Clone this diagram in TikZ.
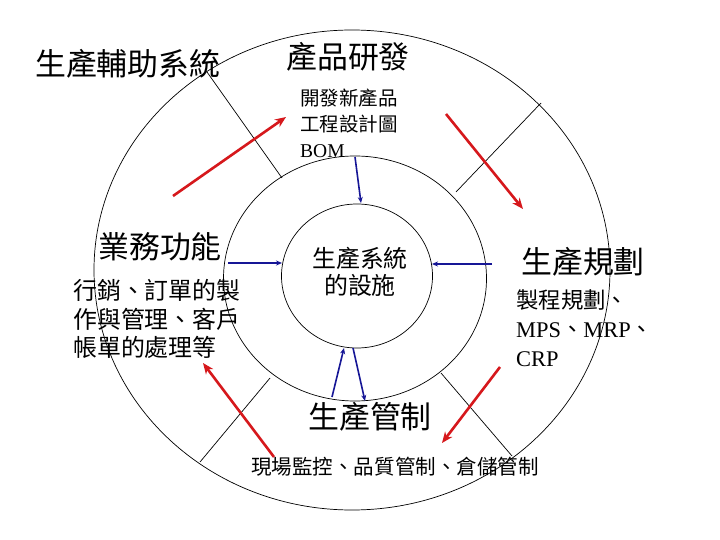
\documentclass[tikz,border=0pt]{standalone}
\usepackage{fontspec}
\setmainfont{Liberation Serif}
\newfontfamily\cjk{Noto Sans CJK TC}
\usetikzlibrary{arrows.meta}
\definecolor{flow}{RGB}{214,24,28}
\definecolor{feed}{RGB}{22,22,150}

\begin{document}
\begin{tikzpicture}[x=1bp, y=-1bp, inner sep=0pt,
  ring/.style={line width=0.7bp, black},
  flowarrow/.style={-{Stealth[length=11bp,width=9bp]}, line width=2.6bp, flow},
  feedarrow/.style={-{Stealth[length=6bp,width=5bp]}, line width=1.6bp, feed},
  title/.style={font=\cjk\fontsize{31}{31}\selectfont},
  sub/.style={font=\cjk\fontsize{24}{29}\selectfont, align=left}]

\useasboundingbox[fill=white] (0,0) rectangle (720,540);

% the three rings
\draw[ring] (352,270) ellipse [x radius=258, y radius=240];
\draw[ring] (355,278.5) ellipse [x radius=131.5, y radius=122.5];
\draw[ring] (357,276) ellipse [x radius=75.5, y radius=72];

% dividers of the outer ring
\foreach \xa/\ya/\xb/\yb in {207/72/282/178, 541/103/456/192, 270/378/200/462, 441/373/512/456}
  \draw[ring] (\xa,\ya) -- (\xb,\yb);

% titles
\node[title, anchor=west] (aux) at (35,64) {生產輔助系統};
\node[title] (rnd) at (348,57) {產品研發};
\node[title] (biz) at (160,247) {業務功能};
\node[title] (plan) at (583,262) {生產規劃};
\node[title] (ctrl) at (370,417) {生產管制};

% descriptions
\node[anchor=west, align=left, font=\fontsize{19.6}{26}\selectfont] (rndText) at (300,123)
  {{\cjk 開發新產品}\\{\cjk 工程設計圖}\\BOM};
\node[sub, anchor=west] (bizText) at (73,319) {行銷、訂單的製\\作與管理、客戶\\帳單的處理等};
\node[anchor=west, align=left, font=\fontsize{22.5}{29}\selectfont] (planText) at (516,328)
  {{\cjk 製程規劃、}\\MPS{\cjk 、}MRP{\cjk 、}\\CRP};
\node[font=\cjk\fontsize{24}{27}\selectfont, align=center] (sys) at (360,271.5) {生產系統\\的設施};
\node[font=\cjk\fontsize{20.6}{20.6}\selectfont] (ctrlText) at (395,467) {現場監控、品質管制、倉儲管制};

% ends of the connectors
\coordinate (bizOut) at (173,196);  \coordinate (rndIn) at (286,117);
\coordinate (rndOut) at (446,114);  \coordinate (planIn) at (523,209);
\coordinate (planOut) at (500,367); \coordinate (ctrlIn) at (442,443);
\coordinate (ctrlOut) at (274,457); \coordinate (bizIn) at (203,363);
\coordinate (bomOut) at (355,157);  \coordinate (sysTop) at (361,203);
\coordinate (bizFeed) at (228,263); \coordinate (sysLeft) at (282,263);
\coordinate (planFeed) at (492,264); \coordinate (sysRight) at (432,264);
\coordinate (ctrlUp) at (332,397);  \coordinate (sysBotL) at (344,348);
\coordinate (sysBotR) at (353,348); \coordinate (ctrlDown) at (365,401);

% the cycle round the outer ring
\draw[flowarrow] (bizOut) -- (rndIn);
\draw[flowarrow] (rndOut) -- (planIn);
\draw[flowarrow] (planOut) -- (ctrlIn);
\draw[flowarrow] (ctrlOut) -- (bizIn);

% into and out of the centre
\draw[feedarrow] (bomOut) -- (sysTop);
\draw[feedarrow] (bizFeed) -- (sysLeft);
\draw[feedarrow] (planFeed) -- (sysRight);
\draw[feedarrow] (ctrlUp) -- (sysBotL);
\draw[feedarrow] (sysBotR) -- (ctrlDown);
\end{tikzpicture}
\end{document}
